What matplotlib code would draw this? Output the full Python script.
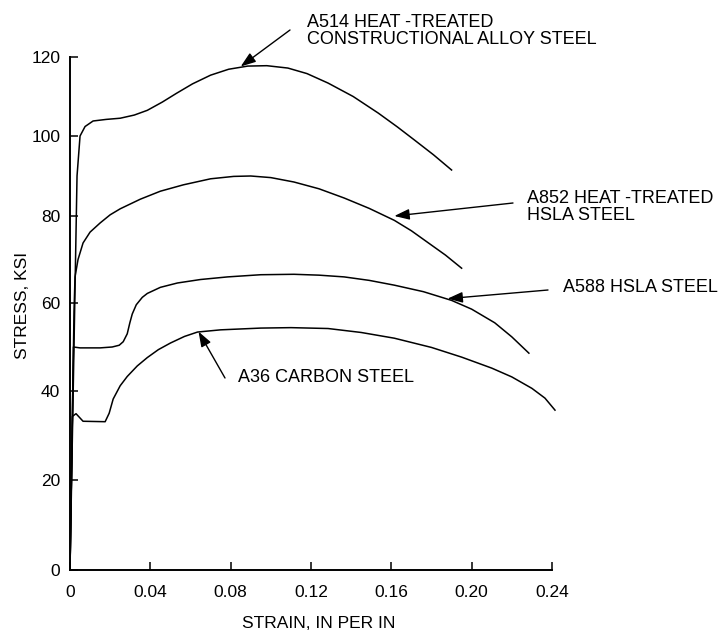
import matplotlib
matplotlib.use("Agg")
import matplotlib.pyplot as plt
import numpy as np

plt.rcParams['font.family'] = ['Liberation Sans', 'DejaVu Sans']

# curves (strain in/in, stress ksi)
a514_strain = [0, 0.0035, 0.005, 0.0075, 0.0115, 0.018, 0.025, 0.032, 0.0385, 0.046, 0.053,
               0.061, 0.07, 0.079, 0.0885, 0.098, 0.1085, 0.118, 0.1285, 0.141, 0.1535,
               0.163, 0.1715, 0.181, 0.19]
a514_stress = [0, 90, 100, 102.4, 103.8, 104.2, 104.5, 105.3, 106.5, 108.6, 110.8,
               113.2, 115.4, 116.9, 117.7, 117.8, 117.2, 115.8, 113.4, 110, 105.8,
               102.3, 99, 95.3, 91.5]

a852_strain = [0, 0.002, 0.0025, 0.004, 0.0065, 0.01, 0.015, 0.02, 0.025, 0.035, 0.045, 0.0565,
               0.07, 0.0815, 0.09, 0.1, 0.1115, 0.124, 0.1365, 0.149, 0.1615, 0.17,
               0.1785, 0.187, 0.195]
a852_stress = [0, 58, 66, 70, 73.8, 76.3, 78.4, 80.3, 81.8, 84.2, 86.2, 87.8,
               89.3, 89.9, 90, 89.6, 88.5, 86.8, 84.5, 81.9, 79, 76.6,
               73.8, 71, 68]

a588_strain = [0, 0.0017, 0.005, 0.015, 0.021, 0.0245, 0.0265, 0.0285, 0.0298, 0.031, 0.033,
               0.036, 0.0385, 0.045, 0.0535, 0.065, 0.0785, 0.095, 0.1115, 0.124, 0.1365,
               0.149, 0.1615, 0.176, 0.19, 0.2, 0.2115, 0.22, 0.2285]
a588_stress = [0, 50, 49.8, 49.8, 50, 50.4, 51.2, 53, 55.5, 57.5, 59.6,
               61.3, 62.2, 63.6, 64.6, 65.4, 66, 66.5, 66.6, 66.4, 66,
               65.2, 64.1, 62.6, 60.6, 58.6, 55.5, 52.3, 48.6]

a36_strain = [0, 0.0012, 0.003, 0.0065, 0.0175, 0.0195, 0.0215, 0.025, 0.0285, 0.0335, 0.0385,
              0.044, 0.05, 0.057, 0.0635, 0.075, 0.095, 0.11, 0.1285, 0.145, 0.1615, 0.18,
              0.195, 0.21, 0.22, 0.23, 0.2365, 0.2415]
a36_stress = [0, 34.3, 34.9, 33.2, 33.1, 35, 38.2, 41.2, 43.3, 45.7, 47.6,
              49.4, 50.9, 52.4, 53.4, 53.9, 54.3, 54.4, 54.2, 53.3, 52, 49.9,
              47.7, 45.2, 43.2, 40.6, 38.4, 35.7]

x_ticks = [0, 0.04, 0.08, 0.12, 0.16, 0.20, 0.24]
x_tick_labels = ["0", "0.04", "0.08", "0.12", "0.16", "0.20", "0.24"]
y_ticks = [0, 20, 40, 60, 80, 100, 120]
# the printed stress axis is not evenly spaced: pixel height of each tick above 0
y_tick_px = [0, 90, 179, 267, 354, 434, 513]

# label text, arrow head (data), arrow tail and text anchor (pixels from top-left)
labels = ["A514 HEAT -TREATED\nCONSTRUCTIONAL ALLOY STEEL",
          "A852 HEAT -TREATED\nHSLA STEEL",
          "A588 HSLA STEEL",
          "A36 CARBON STEEL"]
heads = [(0.085, 117.6), (0.1615, 80.0), (0.188, 61.0), (0.064, 53.5)]
tails_px = [(290, 30), (513, 203), (548, 290), (225, 378)]
text_px = [(307, 31), (527, 207), (563, 288), (238, 378)]

W, H = 721, 632
fig = plt.figure(figsize=(W / 100, H / 100), dpi=100)
ax = fig.add_axes([70 / W, (H - 570) / H, 486 / W, 513 / H])


def fwd(v):
    return np.interp(v, y_ticks, y_tick_px)


def inv(v):
    return np.interp(v, y_tick_px, y_ticks)


ax.set_yscale("function", functions=(fwd, inv))

for xs, ys in [(a514_strain, a514_stress), (a852_strain, a852_stress),
               (a588_strain, a588_stress), (a36_strain, a36_stress)]:
    ax.plot(xs, ys, color="black", lw=1.1, solid_joinstyle="round")

ax.set_xlim(0, 0.242)
ax.set_ylim(0, 120)
ax.set_xticks(x_ticks)
ax.set_xticklabels(x_tick_labels)
ax.set_yticks(y_ticks)
ax.set_yticklabels([str(t) for t in y_ticks])
ax.yaxis.set_minor_locator(plt.NullLocator())
for s in ["top", "right"]:
    ax.spines[s].set_visible(False)
ax.spines["bottom"].set_bounds(0, 0.24)
ax.spines["left"].set_linewidth(1.4)
ax.spines["bottom"].set_linewidth(1.4)
ax.tick_params(axis="both", direction="in", length=6, width=1.1, labelsize=12.5)
ax.tick_params(axis="x", pad=11)
ax.tick_params(axis="y", pad=7)

ax.set_xlabel("STRAIN, IN PER IN", fontsize=12.5, va="center")
ax.xaxis.set_label_coords((319 - 70) / 486, -(624 - 570) / 513)
ax.set_ylabel("STRESS, KSI", fontsize=12.5, va="center")
ax.yaxis.set_label_coords(-(70 - 23) / 486, (570 - 305) / 513)

for lab, hd, tl, tp in zip(labels, heads, tails_px, text_px):
    ax.annotate("", xy=hd, xycoords="data",
                xytext=(tl[0], H - tl[1]), textcoords="figure pixels",
                arrowprops=dict(arrowstyle="-|>,head_length=0.7,head_width=0.25",
                                color="black", lw=1.0, shrinkA=0, shrinkB=0,
                                mutation_scale=13))
    fig.text(tp[0] / W, (H - tp[1]) / H, lab, fontsize=13, ha="left", va="center",
             linespacing=1.05)

fig.savefig("out.png", dpi=100)
